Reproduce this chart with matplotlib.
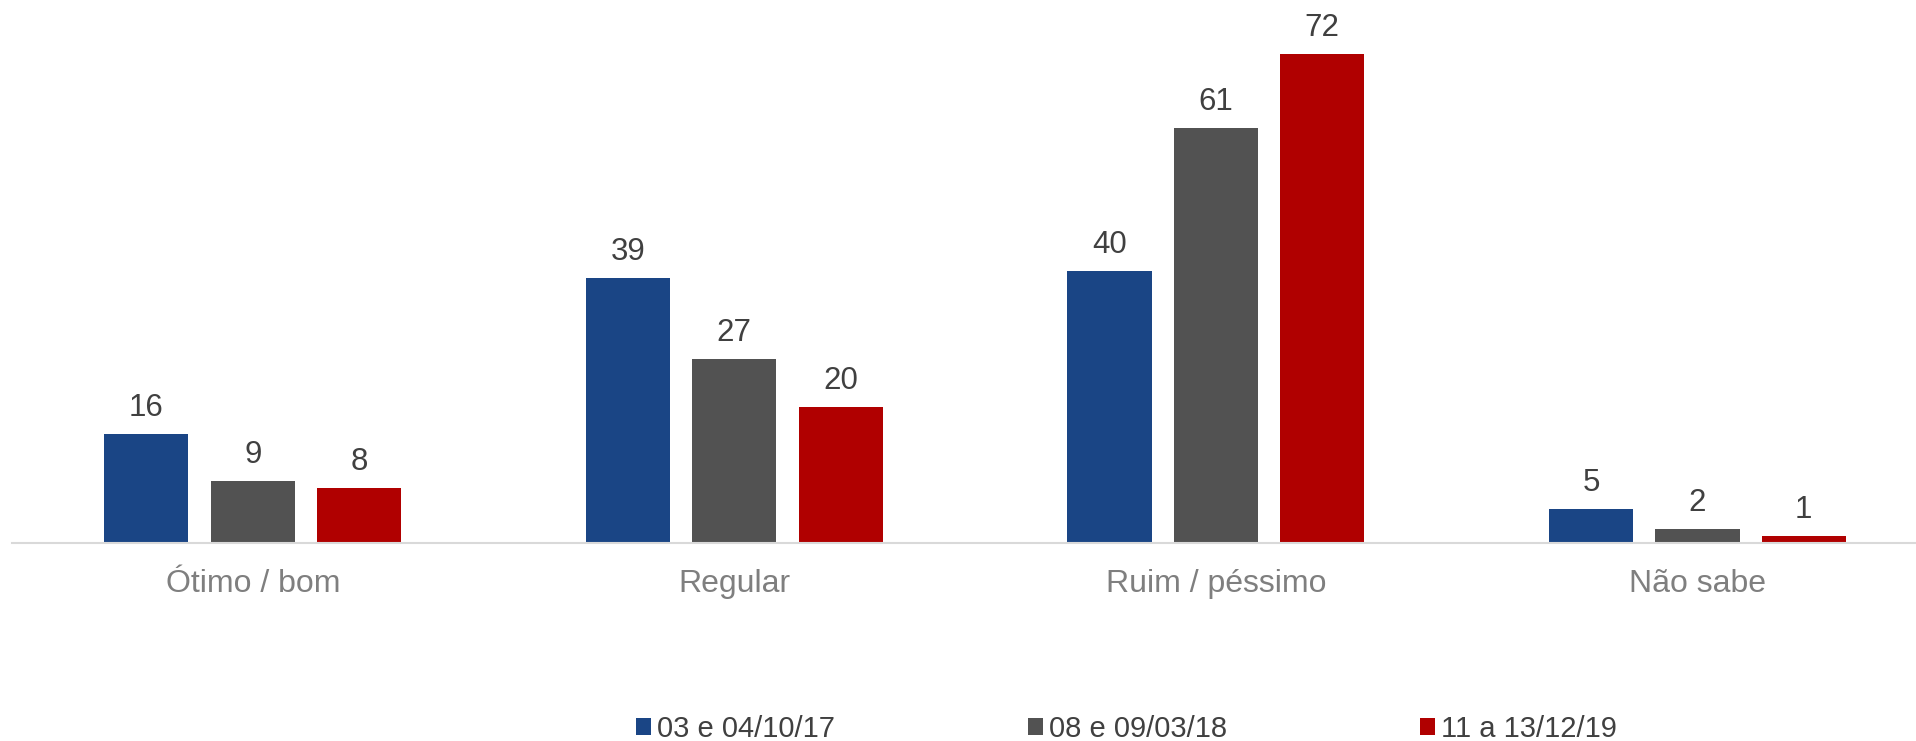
import matplotlib
matplotlib.use("Agg")
import matplotlib.pyplot as plt
from matplotlib.patches import Patch
import numpy as np

categories = ["Ótimo / bom", "Regular", "Ruim / péssimo", "Não sabe"]
series_names = ["03 e 04/10/17", "08 e 09/03/18", "11 a 13/12/19"]
s1 = [16, 39, 40, 5]
s2 = [9, 27, 61, 2]
s3 = [8, 20, 72, 1]
colors = ["#1A4585", "#525252", "#B00000"]

plt.rcParams['font.family'] = ['Liberation Sans', 'DejaVu Sans']

W, H = 1916, 741
fig = plt.figure(figsize=(W / 100, H / 100), dpi=100)
ax_left = 12 / W
ax_bottom = (H - 542.6) / H
ax = fig.add_axes([ax_left, ax_bottom, 1 - ax_left, 542.6 / H])

x = np.arange(len(categories))
pitch = 0.221
width = 0.175
for i, (vals, c) in enumerate(zip([s1, s2, s3], colors)):
    xs = x + (i - 1) * pitch
    bars = ax.bar(xs, vals, width=width, color=c, zorder=2)
    for b, v in zip(bars, vals):
        ax.annotate(str(v), (b.get_x() + b.get_width() / 2, v),
                    xytext=(0, 8), textcoords='offset points',
                    ha='center', va='bottom', fontsize=22.5, color='#404040')

ax.set_xlim(-0.5, 3.454)
ax.set_ylim(0, 79.9)
for s in ['top', 'right', 'left']:
    ax.spines[s].set_visible(False)
ax.spines['bottom'].set_color('#d9d9d9')
ax.spines['bottom'].set_linewidth(1.5)
ax.set_yticks([])
ax.set_xticks(x)
ax.set_xticklabels(categories, fontsize=23, color='#7f7f7f')
ax.tick_params(axis='x', length=0, pad=19)

handles = [Patch(facecolor=c, edgecolor='none') for c in colors]
fig.legend(handles, series_names, loc='center', bbox_to_anchor=(0.588, 12 / H),
           ncol=3, frameon=False, fontsize=21, handlelength=0.51, handleheight=0.51,
           handletextpad=0.22, columnspacing=6.6, borderpad=0, labelcolor='#404040')

fig.savefig("out.png", dpi=100)
